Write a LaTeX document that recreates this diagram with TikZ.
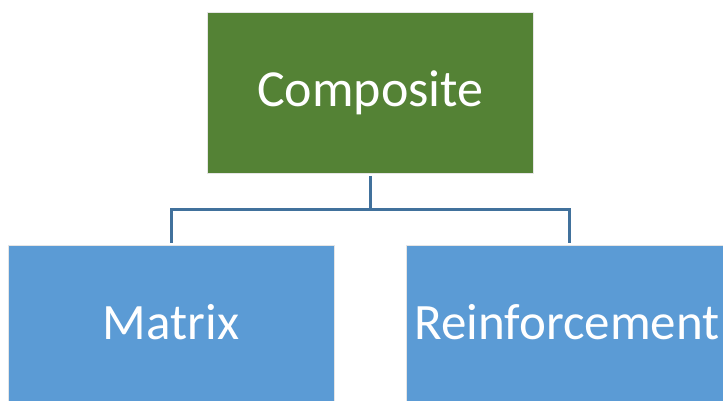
\documentclass[tikz,border=0pt]{standalone}
\usepackage{fontspec}
\setmainfont{Carlito}
\definecolor{topgreen}{HTML}{548235}
\definecolor{boxblue}{HTML}{5B9BD5}
\definecolor{linkblue}{HTML}{41719C}
\tikzset{
  box/.style={draw=white!90!black, line width=0.8pt, minimum width=326pt, inner sep=0pt,
    text=white, font=\fontsize{52}{60}\selectfont, anchor=north west},
  label/.style={text=white, font=\fontsize{51}{60}\selectfont},
  link/.style={draw=linkblue, line width=3pt}
}
\begin{document}
\begin{tikzpicture}[x=1pt,y=-1pt]
  \useasboundingbox (0,0) rectangle (723,400);
  \clip (0,0) rectangle (723,400);
  % root
  \node[box, fill=topgreen, minimum height=161pt] (comp) at (207,12) {Composite};
  % children
  \node[box, fill=boxblue, minimum height=200pt] (matrix) at (8,245) {};
  \node[box, fill=boxblue, minimum height=200pt] (reinf) at (406,245) {};
  \node[label] (mlabel) at (171,322) {Matrix};
  \node[label] (rlabel) at (567,322) {Reinforcement};
  % tree connectors (x = 1pt, y = -1pt, so canvas shifts go downward with negative values)
  \coordinate (fork) at ([yshift=-36pt]comp.south);
  \coordinate (mtop) at (171,243);
  \coordinate (rtop) at (569,243);
  \draw[link] ([yshift=-2pt]comp.south) -- (fork);
  \draw[link] (fork) -| (mtop);
  \draw[link] (fork) -| (rtop);
\end{tikzpicture}
\end{document}
